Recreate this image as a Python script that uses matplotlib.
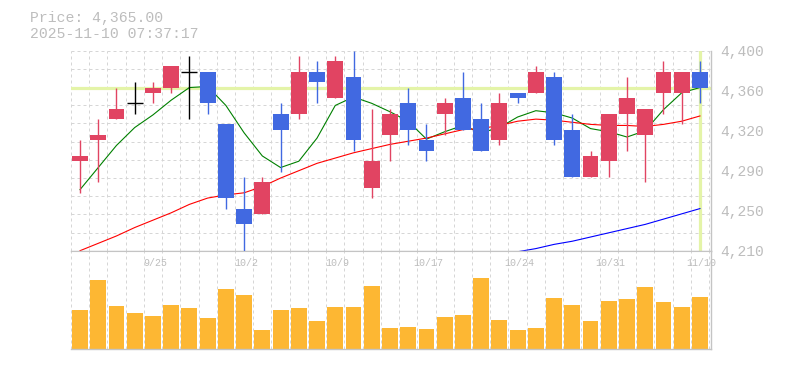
import numpy as np
import matplotlib
matplotlib.use('Agg')
from matplotlib import pyplot as plt
import matplotlib.transforms as mtrans

plt.rcParams['font.family'] = ['Liberation Mono', 'DejaVu Sans Mono']

# trading days (9/18 .. 11/10)
dates = ['9/18', '9/19', '9/22', '9/24', '9/25', '9/26', '9/29', '9/30', '10/1', '10/2',
         '10/3', '10/6', '10/7', '10/8', '10/9', '10/10', '10/14', '10/15', '10/16', '10/17',
         '10/20', '10/21', '10/22', '10/23', '10/24', '10/27', '10/28', '10/29', '10/30', '10/31',
         '11/4', '11/5', '11/6', '11/7', '11/10']
shown_dates = ['9/25', '10/2', '10/9', '10/17', '10/24', '10/31', '11/10']

opens = [4295, 4315, 4335, 4350, 4360, 4365, 4380, 4380, 4330, 4250,
         4245, 4340, 4340, 4380, 4355, 4375, 4270, 4320, 4350, 4315,
         4340, 4355, 4335, 4315, 4360, 4360, 4375, 4325, 4280, 4295,
         4340, 4320, 4360, 4360, 4380]
highs = [4315, 4335, 4365, 4370, 4370, 4385, 4395, 4380, 4330, 4280,
         4280, 4350, 4395, 4390, 4395, 4400, 4345, 4345, 4365, 4330,
         4355, 4380, 4350, 4360, 4360, 4385, 4380, 4340, 4305, 4340,
         4375, 4345, 4390, 4380, 4390]
lows = [4265, 4275, 4335, 4340, 4350, 4360, 4335, 4340, 4250, 4210,
        4245, 4285, 4335, 4350, 4355, 4305, 4260, 4295, 4310, 4295,
        4320, 4325, 4305, 4310, 4350, 4360, 4310, 4280, 4280, 4280,
        4305, 4275, 4340, 4330, 4350]
closes = [4300, 4320, 4345, 4350, 4365, 4385, 4380, 4350, 4260, 4235,
          4275, 4325, 4380, 4370, 4390, 4315, 4295, 4340, 4325, 4305,
          4350, 4325, 4305, 4350, 4355, 4380, 4315, 4280, 4300, 4340,
          4355, 4345, 4380, 4380, 4365]

ma_short = [4268, 4289, 4310, 4327, 4339, 4353, 4365, 4366, 4348, 4322,
            4300, 4289, 4295, 4317, 4348, 4356, 4350, 4342, 4333, 4316,
            4323, 4329, 4322, 4327, 4337, 4343, 4341, 4336, 4326, 4323,
            4318, 4324, 4344, 4360, 4365]
ma_mid = [4210, 4217, 4224, 4232, 4239, 4246, 4254, 4260, 4263, 4265,
          4271, 4279, 4286, 4293, 4298, 4303, 4307, 4311, 4314, 4317,
          4321, 4325, 4326, 4329, 4333, 4335, 4334, 4332, 4330, 4329,
          4329, 4328, 4330, 4333, 4338]
ma_long = [np.nan] * 24 + [4209, 4212, 4216, 4219, 4223, 4227, 4231, 4235, 4240, 4245, 4250]

volume = [118, 208, 130, 109, 100, 133, 124, 94, 181, 163,
          58, 118, 124, 85, 127, 127, 190, 64, 67, 61,
          97, 103, 214, 88, 58, 64, 154, 133, 85, 145,
          151, 187, 142, 127, 157]

last_price = 4365
ytick_vals = [4400, 4362, 4324, 4286, 4248, 4210]
ytick_labels = ['4,400', '4,360', '4,320', '4,290', '4,250', '4,210']

UP = '#e14462'
DOWN = '#4169e1'
VOLC = '#fdb733'
GRID = '#d6d6d6'
FRAME = '#c4c4c4'
TXT = '#bdbdbd'
HL = '#e4f4a8'

W, H = 785, 370


def rect(l, t, r, b):
    return [l / W, 1 - b / H, (r - l) / W, (b - t) / H]


fig = plt.figure(figsize=(W / 100, H / 100), dpi=100)
axp = fig.add_axes(rect(70.7, 50.7, 710.7, 250.7))
axv = fig.add_axes(rect(70.7, 250.7, 710.7, 349.3))

n = len(dates)
x = np.arange(n)
o = np.array(opens, float)
c = np.array(closes, float)
hi = np.array(highs, float)
lo = np.array(lows, float)
bw = 0.87

ymin, ymax = 4210, 4400
for ax in (axp, axv):
    ax.set_xlim(-0.51, n - 1 + 0.59)
    for xv in np.arange(n + 1) - 0.5:
        ax.axvline(xv, color=GRID, lw=0.72, ls=(0, (3, 3)), zorder=0)
    for s in ('left', 'top'):
        ax.spines[s].set_visible(False)
    for s in ('right', 'bottom'):
        ax.spines[s].set_color(FRAME)
        ax.spines[s].set_linewidth(1.0)
    ax.set_xticks([])

axp.set_ylim(ymin, ymax)
for yv in np.linspace(ymin, ymax, 12):
    axp.axhline(yv, color=GRID, lw=0.72, ls=(0, (3, 3)), zorder=0)

# current price line
axp.axhline(last_price, color=HL, lw=2.3, zorder=1)
axp.axvline(x[-1], color=HL, lw=2.3, zorder=1, ymax=0.995)

# moving averages
axp.plot(x, ma_short, color='#008000', lw=0.8, zorder=2)
axp.plot(x, ma_mid, color='#ff0000', lw=0.8, zorder=2)
axp.plot(x, ma_long, color='#0000ff', lw=0.8, zorder=2)

# candles
cols = np.where(c > o, UP, np.where(c < o, DOWN, 'black'))
axp.vlines(x, lo, hi, colors=cols, lw=1.0, zorder=3)
body = c != o
axp.bar(x[body], np.abs(c - o)[body], bottom=np.minimum(o, c)[body], width=bw,
        color=cols[body], zorder=4)
doji = ~body
axp.hlines(c[doji], x[doji] - bw / 2, x[doji] + bw / 2, colors='black', lw=1.0, zorder=4)

axp.yaxis.tick_right()
axp.set_yticks(ytick_vals, ytick_labels)
axp.tick_params(axis='y', length=0, pad=7, labelsize=10.5, labelcolor=TXT)
for lab in axp.get_yticklabels():
    lab.set_verticalalignment('center_baseline')

# volume
axv.bar(x, volume, width=bw, color=VOLC, zorder=2)
axv.set_ylim(0, 296)
axv.set_yticks([])
axv.spines['top'].set_visible(True)
axv.spines['top'].set_color(FRAME)
trans = mtrans.blended_transform_factory(axv.transData, axv.transAxes)
for d in shown_dates:
    axv.text(dates.index(d) + 0.1, 0.875, d, transform=trans, ha='center', va='center',
             fontsize=7.2, color=TXT, zorder=3)

fig.text(30 / W, 1 - 18 / H, 'Price: 4,365.00', fontsize=10.6, color=TXT, va='center', ha='left')
fig.text(30 / W, 1 - 33.5 / H, '2025-11-10 07:37:17', fontsize=10.6, color=TXT, va='center', ha='left')

fig.savefig('out.png', dpi=100)
